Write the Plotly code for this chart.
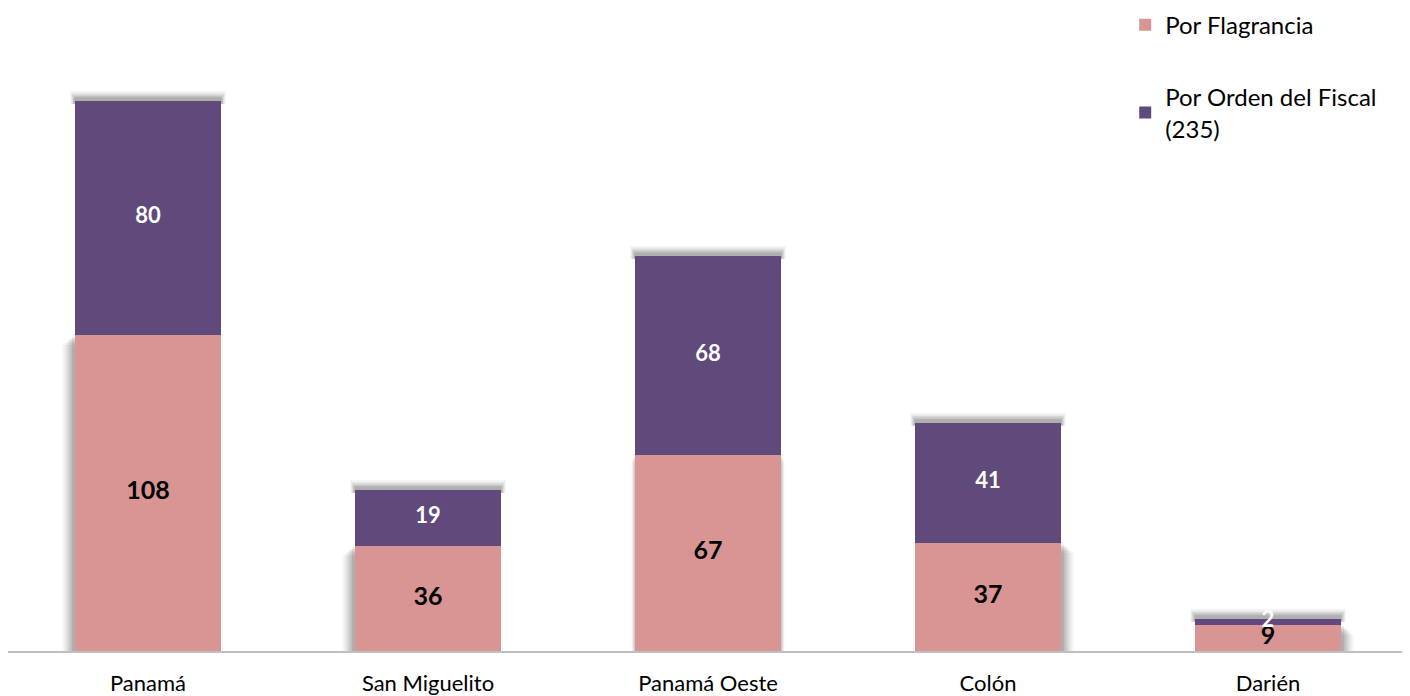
import plotly.graph_objects as go

provincias = ["Panamá", "San Miguelito", "Panamá Oeste", "Colón", "Darién"]
flagrancia = [108, 36, 67, 37, 9]
orden_fiscal = [80, 19, 68, 41, 2]

nombre_flag = "Por Flagrancia"
nombre_orden = "Por Orden del Fiscal<br>(235)"

rosa = "#D99594"
morado = "#604A7B"
fuente = "Lato, 'Open Sans', sans-serif"
ancho = 0.52
px_x = 1 / 280      # un pixel en unidades de x
px_y = 188 / 550    # un pixel en unidades de y

fig = go.Figure()

# sombras difusas como en excel: arriba del morado y a un lado del rosado
totales = [a + b for a, b in zip(flagrancia, orden_fiscal)]
for i, (f, t) in enumerate(zip(flagrancia, totales)):
    izq = i - ancho / 2
    der = i + ancho / 2
    for k, op in enumerate([0.04, 0.05, 0.07, 0.09, 0.10]):
        alto = (10 - 1.6 * k) * px_y
        ext = (5 - k) * px_x
        fig.add_shape(type="rect", xref="x", yref="y",
                      x0=izq - ext, x1=der + ext, y0=t - 1, y1=t + alto,
                      fillcolor=f"rgba(0,0,0,{op})", line_width=0, layer="below")
        lado = (13 - 2.4 * k) * px_x
        if i == 2:
            lado = (4 - 0.7 * k) * px_x
            for x0, x1 in [(izq - lado, izq), (der, der + lado)]:
                fig.add_shape(type="rect", xref="x", yref="y", x0=x0, x1=x1,
                              y0=0, y1=f - 1.5 * px_y * (5 - k),
                              fillcolor=f"rgba(0,0,0,{op * 0.6})", line_width=0, layer="below")
            continue
        if i < 2:
            x0, x1 = izq - lado, izq
        else:
            x0, x1 = der, der + lado
        fig.add_shape(type="rect", xref="x", yref="y", x0=x0, x1=x1,
                      y0=0, y1=f - 2 * px_y * (5 - k),
                      fillcolor=f"rgba(0,0,0,{op})", line_width=0, layer="below")

fig.add_trace(go.Bar(x=list(range(len(provincias))), y=flagrancia, name=nombre_flag,
                     marker=dict(color=rosa, line_width=0), width=ancho,
                     legendgroup="a"))
fig.add_trace(go.Bar(x=list(range(len(provincias))), y=orden_fiscal, name=nombre_orden,
                     marker=dict(color=morado, line_width=0), width=ancho,
                     legendgroup="b"))

# etiquetas de valores
fig.add_trace(go.Scatter(x=list(range(len(provincias))), y=[v / 2 for v in flagrancia],
                         text=[str(v) for v in flagrancia], mode="text",
                         textfont=dict(family=fuente, size=25, color="black", weight="bold"),
                         showlegend=False, hoverinfo="skip"))
fig.add_trace(go.Scatter(x=list(range(len(provincias))),
                         y=[f + o / 2 for f, o in zip(flagrancia, orden_fiscal)],
                         text=[str(v) for v in orden_fiscal], mode="text",
                         textfont=dict(family=fuente, size=22, color="white", weight="bold"),
                         showlegend=False, hoverinfo="skip"))

fig.update_layout(
    barmode="stack",
    width=1410, height=696,
    margin=dict(l=0, r=10, t=52, b=53, autoexpand=False),
    plot_bgcolor="white", paper_bgcolor="white",
    font=dict(family=fuente, size=22, color="black"),
    showlegend=True,
    legend=dict(x=0.798, y=1.097, xanchor="left", yanchor="top",
                xref="paper", yref="paper",
                traceorder="grouped", tracegroupgap=38,
                font=dict(size=24, family=fuente), itemwidth=30,
                bgcolor="rgba(0,0,0,0)"),
)
fig.update_xaxes(tickmode="array", tickvals=list(range(len(provincias))), ticktext=provincias,
                 range=[-0.5, len(provincias) - 0.5], showline=True, linecolor="#BFBFBF",
                 linewidth=1.5, ticks="", showgrid=False, tickfont=dict(size=22),
                 ticklabelstandoff=12, automargin=False)
fig.update_yaxes(range=[0, 202], visible=False, showgrid=False)

fig.write_html("out.html")
